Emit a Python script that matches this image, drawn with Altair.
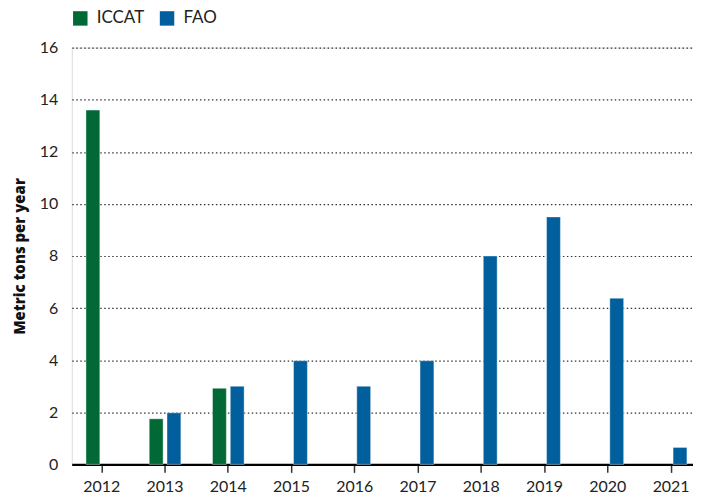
import altair as alt
import pandas as pd

years = ["2012", "2013", "2014", "2015", "2016", "2017", "2018", "2019", "2020", "2021"]
iccat = [13.6, 1.75, 2.92, None, None, None, None, None, None, None]
fao = [None, 1.98, 3.0, 3.98, 3.0, 3.98, 8.0, 9.5, 6.38, 0.65]
sources = ["ICCAT", "FAO"]
colors = ["#006935", "#005f9c"]
y_ticks = [0, 2, 4, 6, 8, 10, 12, 14, 16]

rows = []
for y, a, b in zip(years, iccat, fao):
    if a is not None:
        rows.append({"year": y, "source": "ICCAT", "value": a})
    if b is not None:
        rows.append({"year": y, "source": "FAO", "value": b})
df = pd.DataFrame(rows)

FONT = "Lato"

chart = alt.Chart(df).mark_bar(stroke="white", strokeWidth=0.8, strokeOpacity=0.5).encode(
    x=alt.X("year:N", sort=years, title=None,
            scale=alt.Scale(domain=years, paddingInner=0.5, paddingOuter=0.16, align=0.7),
            axis=alt.Axis(labelAngle=0, labelFont=FONT, labelFontSize=16, labelColor="#222",
                          domainColor="#000", domainWidth=2.5, tickColor="#333", tickWidth=1.5,
                          tickSize=8, labelPadding=6, grid=False)),
    xOffset=alt.XOffset("source:N", sort=sources,
                        scale=alt.Scale(domain=sources, paddingInner=0.22, paddingOuter=0)),
    y=alt.Y("value:Q", title="Metric tons per year",
            scale=alt.Scale(domain=[0, 16], nice=False),
            axis=alt.Axis(values=y_ticks, domain=False, ticks=False, labelFont=FONT,
                          labelFontSize=16, labelColor="#222", labelPadding=14,
                          grid=True, gridColor="#333", gridDash=[1.5, 2.5], gridWidth=1.2,
                          titleFont="Open Sans", titleFontSize=15, titleFontWeight=800,
                          titleColor="#111", titlePadding=12)),
    color=alt.Color("source:N", sort=sources,
                    scale=alt.Scale(domain=sources, range=colors),
                    legend=alt.Legend(title=None, orient="none", legendX=0, legendY=-38,
                                      direction="horizontal", symbolType="square",
                                      symbolSize=210, symbolStrokeWidth=0, symbolOpacity=1,
                                      labelFont=FONT, labelFontSize=17, labelColor="#222",
                                      columnPadding=14, labelOffset=8)),
).properties(
    width=623, height=418,
    autosize=alt.AutoSizeParams(type="none"),
    padding={"left": 64, "top": 39, "right": 0, "bottom": 30},
).configure_view(stroke=None).configure(background="white")

chart.save("out.html", embed_options={"renderer": "svg", "actions": False})
